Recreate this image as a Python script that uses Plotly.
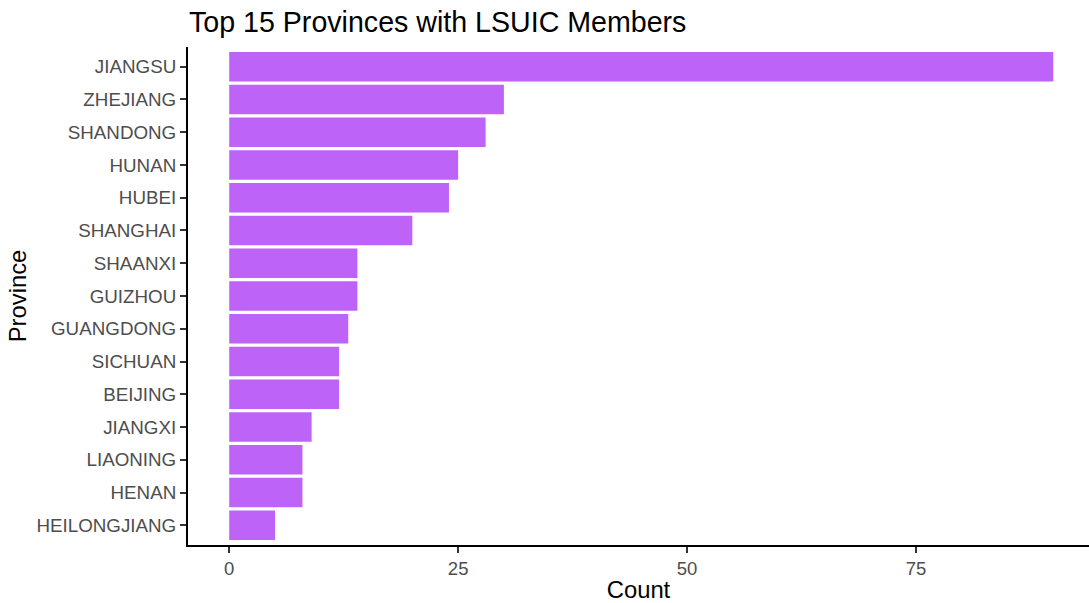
import plotly.graph_objects as go

provinces = ["JIANGSU", "ZHEJIANG", "SHANDONG", "HUNAN", "HUBEI", "SHANGHAI",
             "SHAANXI", "GUIZHOU", "GUANGDONG", "SICHUAN", "BEIJING", "JIANGXI",
             "LIAONING", "HENAN", "HEILONGJIANG"]
counts = [90, 30, 28, 25, 24, 20, 14, 14, 13, 12, 12, 9, 8, 8, 5]
x_ticks = [0, 25, 50, 75]

order = list(reversed(provinces))  # bottom to top

FONT = "Liberation Sans, Arial, sans-serif"

fig = go.Figure()
fig.add_trace(go.Bar(
    x=counts, y=provinces, orientation="h",
    width=0.9,
    marker=dict(color="#BE63F7", line=dict(width=0)),
    hoverinfo="x+y",
))

fig.update_layout(
    width=1089, height=603,
    margin=dict(l=188, r=0, t=47, b=58),
    paper_bgcolor="white", plot_bgcolor="white",
    showlegend=False,
    font=dict(family=FONT, color="#4D4D4D"),
    title=dict(
        text="Top 15 Provinces with LSUIC Members",
        font=dict(family=FONT, size=28.6, color="black"),
        x=189 / 1089, xanchor="left", xref="container",
        y=1 - 21.5 / 603, yanchor="middle", yref="container",
    ),
    xaxis=dict(
        range=[-4.5, 93.9],
        tickmode="array", tickvals=x_ticks, ticktext=[str(v) for v in x_ticks],
        showgrid=False, zeroline=False,
        showline=True, linecolor="black", linewidth=2,
        ticks="outside", ticklen=6, tickwidth=1.5, tickcolor="#333333",
        tickfont=dict(family=FONT, size=18.5, color="#4D4D4D"),
        title=dict(text="Count", font=dict(family=FONT, size=23.8, color="black"), standoff=6),
    ),
    yaxis=dict(
        categoryorder="array", categoryarray=order,
        range=[-0.6, 14.6],
        showgrid=False, zeroline=False,
        showline=True, linecolor="black", linewidth=2,
        ticks="outside", ticklen=6, tickwidth=1.5, tickcolor="#333333",
        tickfont=dict(family=FONT, size=18.8, color="#4D4D4D"),
        title=dict(text="Province", font=dict(family=FONT, size=23.8, color="black"), standoff=3),
    ),
)

fig.write_html("out.html", config={"displayModeBar": False},
               post_script="document.body.style.margin='0';")
